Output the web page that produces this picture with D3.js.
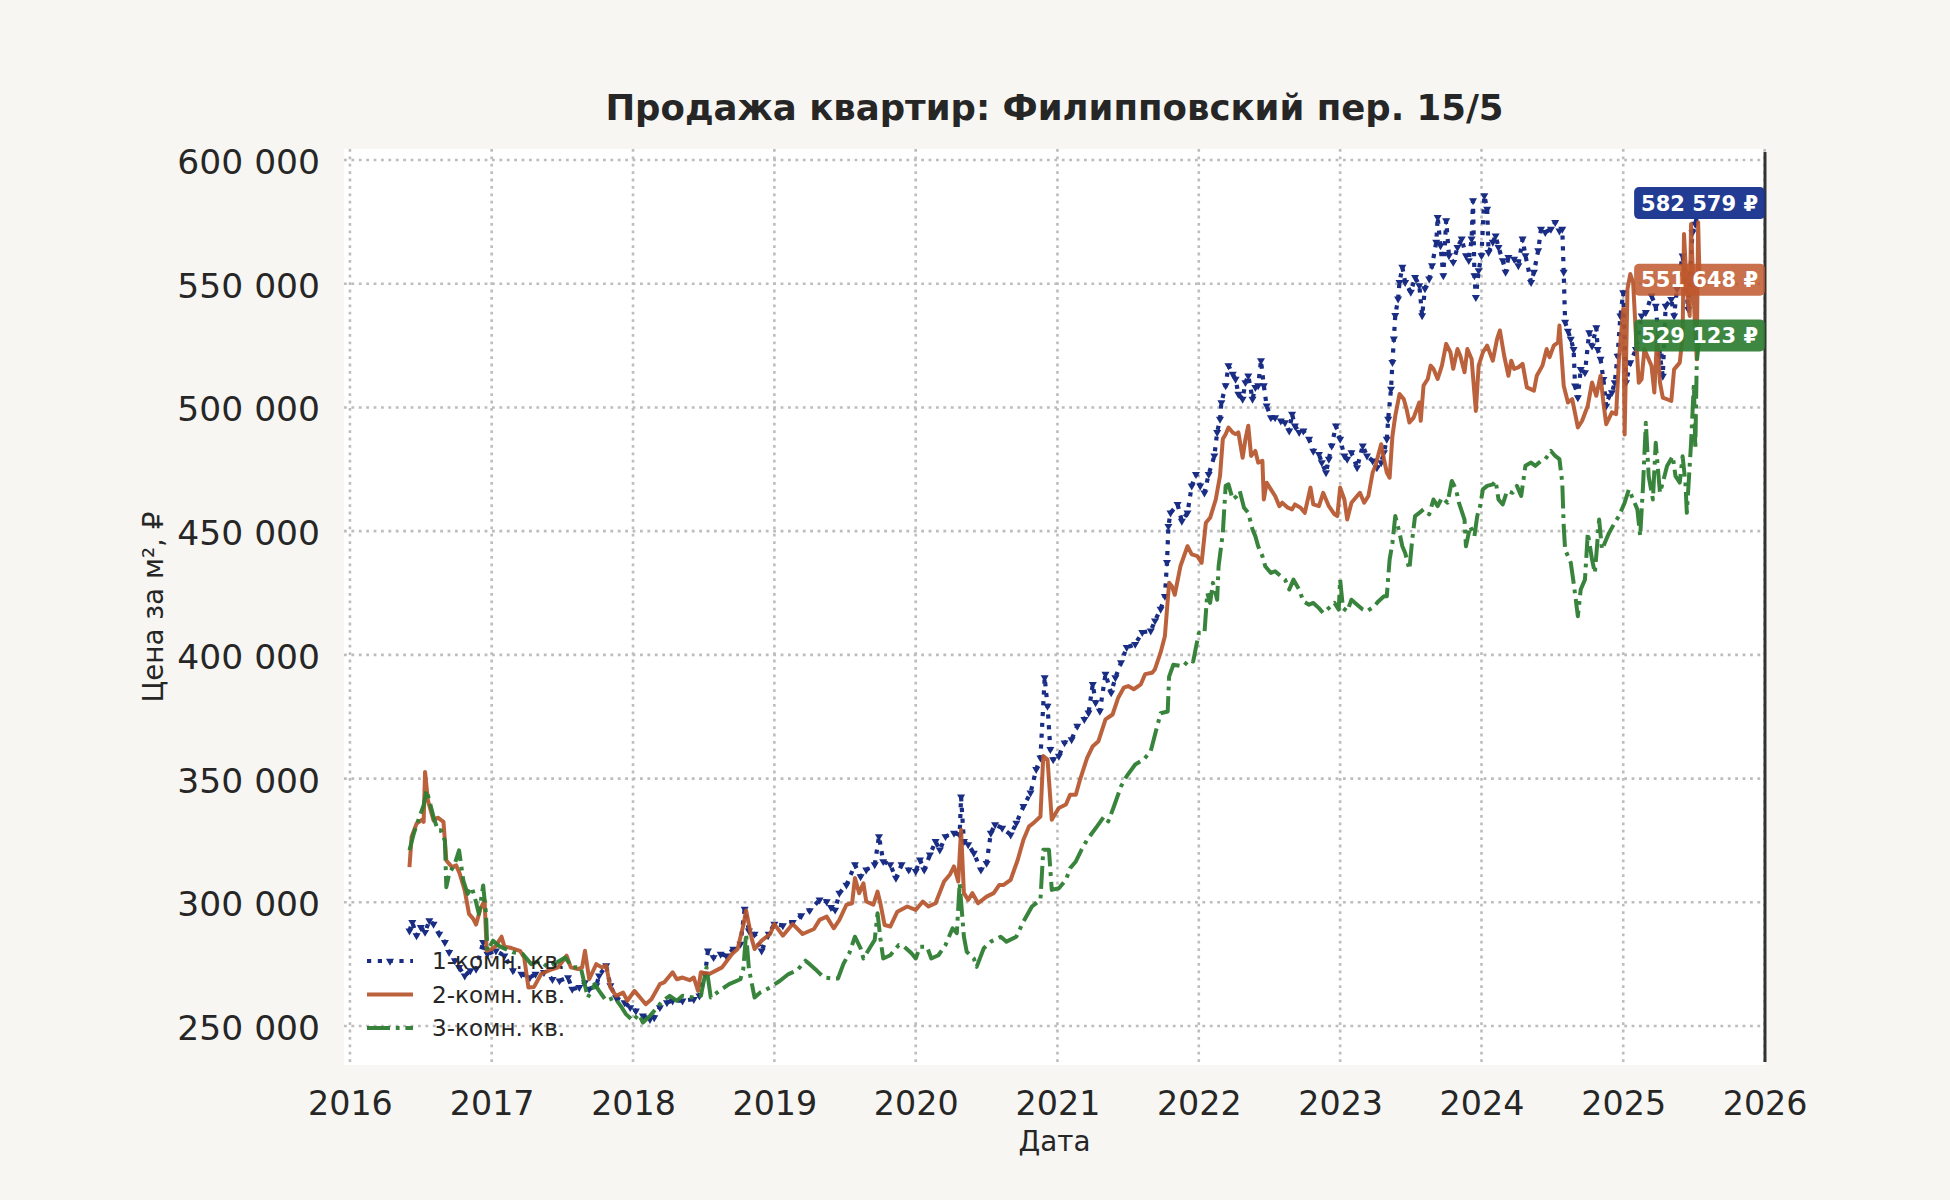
<!DOCTYPE html>
<html>
<head>
<meta charset="utf-8">
<script src="https://cdn.jsdelivr.net/npm/d3@7"></script>
<style>
  html, body { margin: 0; padding: 0; background: #f7f6f2; }
  svg { display: block; font-family: "DejaVu Sans", sans-serif; }
</style>
</head>
<body>
<div id="chart"></div>
<script>
// Data: [decimal year, price per m2]
var oneRoom = [
  [2016.42,288500],[2016.44,291900],[2016.47,286500],[2016.50,289900],[2016.53,287900],[2016.56,292600],
  [2016.59,291200],[2016.63,287200],[2016.67,283800],[2016.70,279800],[2016.74,276400],[2016.77,273700],
  [2016.81,270300],[2016.85,272400],[2016.89,273000],[2016.94,283800],[2016.97,279100],[2017.03,280400],
  [2017.09,278400],[2017.15,272400],[2017.21,271000],[2017.27,269600],[2017.31,271000],[2017.37,271700],
  [2017.43,268900],[2017.48,268300],[2017.54,269600],[2017.57,264900],[2017.62,265600],[2017.66,267600],
  [2017.69,264900],[2017.74,266300],[2017.76,270300],[2017.81,274400],[2017.84,266300],[2017.88,261500],
  [2017.94,259500],[2017.98,257500],[2018.02,256100],[2018.07,254100],[2018.12,252700],[2018.15,253400],
  [2018.19,257500],[2018.24,259500],[2018.28,260200],[2018.35,260200],[2018.43,260800],[2018.47,262200],
  [2018.51,271000],[2018.53,280400],[2018.57,277700],[2018.62,279100],[2018.66,278400],[2018.71,281100],
  [2018.76,283100],[2018.79,297300],[2018.82,288500],[2018.86,287200],[2018.91,280400],[2018.96,287200],
  [2019.00,291200],[2019.06,290600],[2019.13,291900],[2019.19,294600],[2019.25,296700],[2019.32,301000],
  [2019.37,300300],[2019.40,298000],[2019.43,296900],[2019.46,303700],[2019.51,307000],[2019.57,315200],
  [2019.61,310400],[2019.65,313100],[2019.71,315200],[2019.74,326600],[2019.77,316500],[2019.82,315200],
  [2019.86,309800],[2019.90,315200],[2019.95,313100],[2020.00,312500],[2020.03,317200],[2020.06,313100],
  [2020.10,319200],[2020.14,324600],[2020.17,321200],[2020.21,326600],[2020.27,328000],[2020.31,327300],
  [2020.32,342600],[2020.34,324600],[2020.37,323300],[2020.41,319900],[2020.46,313100],[2020.50,315800],
  [2020.53,328000],[2020.56,331400],[2020.61,330000],[2020.67,327300],[2020.71,332000],[2020.76,338800],
  [2020.81,344200],[2020.85,353700],[2020.88,358400],[2020.91,390800],[2020.93,379300],[2020.95,361800],
  [2020.97,357700],[2021.01,359100],[2021.05,364500],[2021.10,365800],[2021.14,371200],[2021.19,373900],
  [2021.22,376600],[2021.25,388100],[2021.27,380700],[2021.30,377300],[2021.34,392200],[2021.38,384700],
  [2021.41,390800],[2021.45,396900],[2021.49,403000],[2021.55,404300],[2021.60,409100],[2021.66,409700],
  [2021.69,413800],[2021.73,418500],[2021.76,423700],[2021.775,437400],[2021.785,452000],[2021.80,457400],
  [2021.85,460800],[2021.88,454100],[2021.92,457400],[2021.95,468300],[2021.98,473000],[2022.01,468300],
  [2022.04,465500],[2022.07,473000],[2022.11,480400],[2022.13,489900],[2022.15,495300],[2022.16,502000],
  [2022.19,508800],[2022.21,516900],[2022.24,513500],[2022.26,511500],[2022.28,505400],[2022.31,503400],
  [2022.33,510100],[2022.35,512800],[2022.38,503400],[2022.40,508100],[2022.42,508800],[2022.44,518900],
  [2022.46,508800],[2022.48,500700],[2022.51,495900],[2022.54,495900],[2022.58,494600],[2022.61,493900],
  [2022.64,490500],[2022.66,497300],[2022.68,492600],[2022.71,489900],[2022.74,490500],[2022.78,487200],
  [2022.81,482400],[2022.85,481100],[2022.87,477700],[2022.90,473700],[2022.92,479100],[2022.94,484500],
  [2022.97,492600],[2023.00,487200],[2023.03,480400],[2023.05,479100],[2023.08,481800],[2023.12,475700],
  [2023.16,484500],[2023.19,480400],[2023.23,478400],[2023.26,475700],[2023.29,477700],[2023.31,481800],
  [2023.33,487200],[2023.34,495300],[2023.36,507400],[2023.37,518200],[2023.38,527700],[2023.39,537200],
  [2023.41,543900],[2023.42,550600],[2023.44,556700],[2023.46,550600],[2023.50,546600],[2023.53,552600],
  [2023.56,549300],[2023.58,537100],[2023.60,548000],[2023.63,552000],[2023.65,557300],[2023.68,566800],
  [2023.69,576800],[2023.71,565400],[2023.73,553300],[2023.75,575500],[2023.77,561400],[2023.80,558700],
  [2023.83,564700],[2023.86,568100],[2023.89,561400],[2023.91,559400],[2023.93,568100],[2023.94,583600],
  [2023.95,553300],[2023.96,544500],[2023.98,555300],[2024.00,561400],[2024.02,585600],[2024.04,580200],
  [2024.05,562700],[2024.08,566800],[2024.10,569400],[2024.12,564700],[2024.15,559400],[2024.17,554700],
  [2024.19,560700],[2024.23,560000],[2024.26,557300],[2024.29,568100],[2024.31,561400],[2024.35,550600],
  [2024.37,554700],[2024.40,563400],[2024.42,572100],[2024.45,570800],[2024.49,572100],[2024.52,574800],
  [2024.55,571400],[2024.57,572100],[2024.58,554700],[2024.59,534500],[2024.61,530900],[2024.63,527600],
  [2024.65,523500],[2024.66,508700],[2024.68,504000],[2024.70,515400],[2024.73,514100],[2024.76,530300],
  [2024.78,524900],[2024.81,532300],[2024.82,523500],[2024.84,519500],[2024.86,511400],[2024.88,500600],
  [2024.90,504600],[2024.92,506000],[2024.94,510000],[2024.96,520800],[2024.98,537000],[2025.00,546400],
  [2025.02,510000],[2025.05,518100],[2025.09,523500],[2025.13,537000],[2025.16,538400],[2025.20,545100],
  [2025.23,541000],[2025.26,520800],[2025.28,512700],[2025.30,541000],[2025.34,543700],[2025.36,537000],
  [2025.38,547800],[2025.42,561300],[2025.46,539700],[2025.49,570700],[2025.51,574100],[2025.54,582579]
];

var twoRoom = [
  [2016.42,314200],[2016.435,326400],[2016.47,331800],[2016.51,333400],[2016.52,332500],[2016.53,352700],
  [2016.55,341200],[2016.59,333100],[2016.62,334200],[2016.66,332500],[2016.68,316900],[2016.72,314200],
  [2016.75,314900],[2016.775,311500],[2016.81,304800],[2016.84,295300],[2016.87,293300],[2016.89,291000],
  [2016.92,297300],[2016.95,300700],[2016.965,280400],[2017.00,281100],[2017.03,282400],[2017.07,286100],
  [2017.09,282100],[2017.14,281500],[2017.20,280400],[2017.23,277700],[2017.26,265600],[2017.30,265800],
  [2017.35,271000],[2017.41,272600],[2017.47,273700],[2017.53,278400],[2017.56,273700],[2017.61,273000],
  [2017.64,273700],[2017.66,280400],[2017.69,268900],[2017.74,275000],[2017.78,273700],[2017.81,274400],
  [2017.84,265600],[2017.88,262200],[2017.93,263500],[2017.96,260200],[2018.01,264200],[2018.05,261500],
  [2018.09,258800],[2018.13,260800],[2018.19,266900],[2018.22,267600],[2018.28,271700],[2018.31,268900],
  [2018.35,269600],[2018.40,268500],[2018.43,269600],[2018.46,264200],[2018.48,271700],[2018.54,271000],
  [2018.63,273700],[2018.70,279100],[2018.74,281100],[2018.78,290600],[2018.80,296700],[2018.84,285200],
  [2018.86,281100],[2018.91,284500],[2018.97,287200],[2019.00,291200],[2019.06,286500],[2019.13,291200],
  [2019.20,287200],[2019.28,289200],[2019.32,292900],[2019.37,294200],[2019.42,289500],[2019.46,292900],
  [2019.51,299000],[2019.55,299600],[2019.57,309800],[2019.60,303700],[2019.63,307700],[2019.65,300300],
  [2019.70,299000],[2019.73,304300],[2019.75,299600],[2019.78,290800],[2019.82,290200],[2019.87,296200],
  [2019.94,298300],[2020.00,296900],[2020.05,300300],[2020.09,298300],[2020.14,299600],[2020.20,308400],
  [2020.24,311100],[2020.27,314500],[2020.30,308400],[2020.32,329300],[2020.34,303700],[2020.37,301000],
  [2020.40,303700],[2020.44,299600],[2020.50,302300],[2020.55,303700],[2020.59,307000],[2020.62,307000],
  [2020.67,309100],[2020.72,317200],[2020.76,325300],[2020.80,330700],[2020.83,332000],[2020.88,334700],
  [2020.90,359100],[2020.93,357700],[2020.96,333400],[2021.01,338100],[2021.06,339500],[2021.09,343500],
  [2021.13,343500],[2021.16,349600],[2021.21,358400],[2021.25,363100],[2021.29,365100],[2021.34,373900],
  [2021.39,375900],[2021.43,382700],[2021.47,386800],[2021.50,387400],[2021.54,386100],[2021.59,388100],
  [2021.62,392200],[2021.67,392800],[2021.69,394200],[2021.73,401000],[2021.76,407500],[2021.79,429100],
  [2021.81,427700],[2021.83,424300],[2021.87,435800],[2021.92,443900],[2021.95,440600],[2021.99,439900],
  [2022.02,437200],[2022.05,453400],[2022.08,455400],[2022.12,462800],[2022.15,472300],[2022.17,487200],
  [2022.19,489200],[2022.21,491900],[2022.24,489900],[2022.26,489200],[2022.28,489900],[2022.31,479700],
  [2022.33,487200],[2022.35,492600],[2022.37,480400],[2022.40,482400],[2022.42,477700],[2022.45,478400],
  [2022.46,462800],[2022.48,469600],[2022.51,466900],[2022.54,464200],[2022.57,460100],[2022.59,461500],
  [2022.63,459500],[2022.66,458800],[2022.68,460800],[2022.72,459500],[2022.75,457400],[2022.79,467600],
  [2022.81,460800],[2022.85,460100],[2022.88,465500],[2022.92,460100],[2022.96,456800],[2022.98,456100],
  [2023.00,467600],[2023.03,462800],[2023.05,454700],[2023.08,461500],[2023.12,464200],[2023.14,465500],
  [2023.17,461500],[2023.20,464200],[2023.23,473700],[2023.25,476400],[2023.29,485100],[2023.31,479100],
  [2023.33,473700],[2023.35,471600],[2023.37,488500],[2023.39,496600],[2023.42,505400],[2023.45,503400],
  [2023.47,499300],[2023.49,493900],[2023.52,495900],[2023.56,502000],[2023.57,494600],[2023.59,508800],
  [2023.62,511500],[2023.64,516900],[2023.66,515600],[2023.69,511500],[2023.72,516900],[2023.75,525700],
  [2023.78,522300],[2023.80,515600],[2023.83,523600],[2023.85,520900],[2023.88,514200],[2023.90,523600],
  [2023.93,519600],[2023.96,498600],[2023.98,516900],[2024.01,522300],[2024.04,525000],[2024.08,518900],
  [2024.11,527700],[2024.13,531100],[2024.16,520900],[2024.19,512800],[2024.21,518900],[2024.23,515600],
  [2024.26,516200],[2024.29,517600],[2024.32,508100],[2024.37,506800],[2024.39,512800],[2024.43,516900],
  [2024.46,523600],[2024.48,520300],[2024.51,525000],[2024.54,526300],[2024.55,533100],[2024.58,508800],
  [2024.61,502000],[2024.64,503400],[2024.68,491900],[2024.71,494600],[2024.75,500700],[2024.78,510100],
  [2024.81,504700],[2024.84,512800],[2024.86,502000],[2024.88,493200],[2024.92,498000],[2024.95,497300],
  [2024.97,519600],[2025.00,539900],[2025.01,489100],[2025.03,547800],[2025.05,553900],[2025.07,550500],
  [2025.09,528900],[2025.11,510000],[2025.13,511400],[2025.15,523500],[2025.17,520800],[2025.20,516800],
  [2025.22,506000],[2025.24,528900],[2025.26,510000],[2025.28,504000],[2025.31,503300],[2025.34,502600],
  [2025.36,515400],[2025.40,518100],[2025.42,528900],[2025.43,570100],[2025.45,547800],[2025.47,537000],
  [2025.48,574100],[2025.50,542400],[2025.52,519500],[2025.53,574800],[2025.54,551648]
];

var threeRoom = [
  [2016.42,321000],[2016.45,327700],[2016.49,334500],[2016.52,339200],[2016.54,345300],[2016.56,341200],
  [2016.59,334500],[2016.62,329100],[2016.64,329100],[2016.67,325000],[2016.68,306100],[2016.70,311500],
  [2016.74,315600],[2016.77,321000],[2016.80,308800],[2016.83,303400],[2016.86,306100],[2016.89,300000],
  [2016.91,295300],[2016.94,306800],[2016.96,295300],[2016.97,280400],[2017.01,284500],[2017.05,282400],
  [2017.10,281100],[2017.15,279800],[2017.22,279100],[2017.28,275000],[2017.34,276400],[2017.40,273700],
  [2017.46,275700],[2017.52,277700],[2017.57,273700],[2017.63,273700],[2017.68,261500],[2017.73,266900],
  [2017.76,264200],[2017.81,260200],[2017.87,261500],[2017.92,257500],[2017.95,254800],[2018.00,252100],
  [2018.04,254800],[2018.07,251400],[2018.12,254100],[2018.17,257500],[2018.21,260200],[2018.26,262200],
  [2018.31,260200],[2018.35,262200],[2018.43,261500],[2018.48,262200],[2018.52,273700],[2018.55,261500],
  [2018.61,264200],[2018.68,266900],[2018.76,268900],[2018.78,273000],[2018.80,287200],[2018.82,273000],
  [2018.86,261500],[2018.90,263500],[2018.97,265600],[2019.04,268300],[2019.10,271000],[2019.16,272400],
  [2019.22,276400],[2019.25,275000],[2019.30,272400],[2019.35,269600],[2019.41,269200],[2019.45,269200],
  [2019.49,275300],[2019.53,279400],[2019.57,286100],[2019.61,281400],[2019.63,277300],[2019.68,282000],
  [2019.71,284800],[2019.73,295600],[2019.75,285400],[2019.77,277300],[2019.82,278600],[2019.88,282700],
  [2019.92,282000],[2019.97,279400],[2020.00,277300],[2020.03,282000],[2020.08,282000],[2020.11,277300],
  [2020.16,278600],[2020.21,282700],[2020.26,289500],[2020.29,287500],[2020.31,307700],[2020.34,286100],
  [2020.36,280000],[2020.41,277300],[2020.43,273900],[2020.48,281400],[2020.53,284100],[2020.60,286100],
  [2020.64,284100],[2020.71,286100],[2020.76,292200],[2020.82,298300],[2020.88,301000],[2020.90,321200],
  [2020.94,321200],[2020.96,305000],[2021.01,305700],[2021.06,309100],[2021.09,313800],[2021.13,316500],
  [2021.17,321200],[2021.21,325300],[2021.28,330700],[2021.33,334700],[2021.36,332700],[2021.40,338800],
  [2021.45,346900],[2021.49,351000],[2021.55,355700],[2021.61,357700],[2021.66,361100],[2021.70,369900],
  [2021.73,376400],[2021.78,377100],[2021.79,391200],[2021.82,396000],[2021.89,395300],[2021.93,398000],
  [2021.96,397300],[2022.00,408800],[2022.04,408800],[2022.06,425000],[2022.08,421000],[2022.10,429100],
  [2022.13,422300],[2022.14,435800],[2022.17,449300],[2022.19,468300],[2022.21,468900],[2022.24,462800],
  [2022.27,464200],[2022.29,466200],[2022.32,459500],[2022.35,457400],[2022.38,450700],[2022.40,448000],
  [2022.42,443900],[2022.45,439900],[2022.47,435800],[2022.51,433100],[2022.54,433800],[2022.58,431800],
  [2022.61,430400],[2022.64,426400],[2022.67,430400],[2022.71,426400],[2022.74,421600],[2022.78,420300],
  [2022.81,421000],[2022.85,418900],[2022.88,416900],[2022.92,418900],[2022.96,421000],[2022.99,418300],
  [2023.00,430400],[2023.02,418900],[2023.05,417600],[2023.08,422300],[2023.12,420300],[2023.16,418300],
  [2023.19,417600],[2023.24,419600],[2023.27,421600],[2023.31,423700],[2023.33,423700],[2023.35,438500],
  [2023.37,445300],[2023.39,456100],[2023.42,449300],[2023.44,443900],[2023.46,441200],[2023.49,434500],
  [2023.51,446600],[2023.53,456100],[2023.56,457400],[2023.59,458800],[2023.63,456800],[2023.66,462800],
  [2023.69,460100],[2023.72,463500],[2023.76,461500],[2023.79,470300],[2023.82,466900],[2023.84,461500],
  [2023.88,454700],[2023.89,443900],[2023.92,452000],[2023.95,448000],[2023.97,456100],[2023.99,460100],
  [2024.01,466900],[2024.04,468300],[2024.08,468900],[2024.10,470300],[2024.12,462800],[2024.15,460800],
  [2024.18,466200],[2024.22,465500],[2024.25,468300],[2024.28,464200],[2024.31,476400],[2024.35,477700],
  [2024.38,476400],[2024.42,478400],[2024.45,479100],[2024.49,482400],[2024.52,480400],[2024.55,479100],
  [2024.57,469600],[2024.58,452000],[2024.59,442600],[2024.63,437200],[2024.65,429100],[2024.68,415600],
  [2024.70,426400],[2024.73,430400],[2024.75,449300],[2024.78,438500],[2024.80,433100],[2024.83,454700],
  [2024.85,442600],[2024.88,446600],[2024.90,449300],[2024.94,453400],[2024.97,456100],[2025.01,461500],
  [2025.04,466900],[2025.07,462800],[2025.10,458800],[2025.12,448000],[2025.14,468200],[2025.16,493800],
  [2025.18,472200],[2025.21,462800],[2025.23,485700],[2025.26,465500],[2025.28,469600],[2025.31,476300],
  [2025.35,480300],[2025.37,472200],[2025.40,469600],[2025.42,480300],[2025.44,469600],[2025.45,457400],
  [2025.47,476300],[2025.48,485700],[2025.50,510000],[2025.51,483000],[2025.52,518100],[2025.54,529123]
];

var seriesNames = ["1-комн. кв.", "2-комн. кв.", "3-комн. кв."];
var yTicks = [250000, 300000, 350000, 400000, 450000, 500000, 550000, 600000];
var xTickYears = [2016, 2017, 2018, 2019, 2020, 2021, 2022, 2023, 2024, 2025, 2026];

var titleText = "Продажа квартир: Филипповский пер. 15/5";
var xLabel = "Дата";
var yLabel = "Цена за м², ₽";

// Layout
var W = 1950, H = 1200;
var plot = {left: 344, top: 149, right: 1765, bottom: 1065};

function yearToDate(y){
  var yr = Math.floor(y);
  var s = new Date(yr, 0, 1), e = new Date(yr + 1, 0, 1);
  return new Date(+s + (y - yr) * (e - s));
}

var fmt = function(v){ return d3.format(",")(v).replace(/,/g, " "); };

var svg = d3.select("#chart").append("svg")
  .attr("width", W).attr("height", H);

svg.append("rect").attr("width", W).attr("height", H).attr("fill", "#f7f6f2");
svg.append("rect")
  .attr("x", plot.left).attr("y", plot.top)
  .attr("width", plot.right - plot.left).attr("height", plot.bottom - plot.top)
  .attr("fill", "#ffffff");

var x = d3.scaleTime()
  .domain([yearToDate(2015.958), yearToDate(2026.003)])
  .range([plot.left, plot.right]);

var y = d3.scaleLinear()
  .domain([234240, 604450])
  .range([plot.bottom, plot.top]);

// grid
var grid = svg.append("g").attr("class", "grid")
  .attr("stroke", "#bdbdbd").attr("stroke-width", 2.6).attr("stroke-dasharray", "2.8,4.6");

grid.selectAll("line.h").data(yTicks).enter().append("line")
  .attr("x1", plot.left).attr("x2", plot.right)
  .attr("y1", function(d){ return y(d); }).attr("y2", function(d){ return y(d); });

grid.selectAll("line.v").data(xTickYears).enter().append("line")
  .attr("x1", function(d){ return x(new Date(d, 0, 1)); })
  .attr("x2", function(d){ return x(new Date(d, 0, 1)); })
  .attr("y1", plot.top).attr("y2", plot.bottom);

// axes (text only, no domain / ticks)
var yAxis = svg.append("g")
  .attr("transform", "translate(" + (plot.left - 24) + ",2.5)")
  .call(d3.axisLeft(y).tickValues(yTicks).tickFormat(fmt).tickSize(0).tickPadding(0));
yAxis.select(".domain").remove();
yAxis.selectAll("text")
  .attr("font-family", "DejaVu Sans").attr("font-size", 34.5).attr("fill", "#262626");

var xAxis = svg.append("g")
  .attr("transform", "translate(0," + (plot.bottom + 26) + ")")
  .call(d3.axisBottom(x).tickValues(xTickYears.map(function(d){ return new Date(d, 0, 1); }))
    .tickFormat(d3.timeFormat("%Y")).tickSize(0).tickPadding(0));
xAxis.select(".domain").remove();
xAxis.selectAll("text")
  .attr("font-family", "DejaVu Sans").attr("font-size", 33.3).attr("fill", "#262626")
  .attr("dy", "0.71em");

// right spine
svg.append("line")
  .attr("x1", plot.right).attr("x2", plot.right)
  .attr("y1", plot.top + 3).attr("y2", plot.bottom - 3)
  .attr("stroke", "#333333").attr("stroke-width", 3);

// lines
var line = d3.line()
  .x(function(d){ return x(yearToDate(d[0])); })
  .y(function(d){ return y(d[1]); });

var styles = [
  {color: "#1a2d84", width: 4.2, dash: "4.2,6.6", opacity: 1},
  {color: "#b5552b", width: 4, dash: null, opacity: 0.92},
  {color: "#2e7d32", width: 4, dash: "23,5.8,3.8,5.8", opacity: 0.95}
];
var allSeries = [oneRoom, twoRoom, threeRoom];

var tri = d3.symbol().type(d3.symbolTriangle).size(28);

allSeries.forEach(function(data, i){
  var st = styles[i];
  svg.append("path")
    .datum(data)
    .attr("d", line)
    .attr("fill", "none")
    .attr("stroke", st.color)
    .attr("stroke-width", st.width)
    .attr("stroke-dasharray", st.dash)
    .attr("stroke-linejoin", "round")
    .attr("opacity", st.opacity);
  if (i === 0) {
    svg.append("g").selectAll("path").data(data).enter().append("path")
      .attr("d", tri)
      .attr("transform", function(d){ return "translate(" + x(yearToDate(d[0])) + "," + y(d[1]) + ") rotate(180)"; })
      .attr("fill", st.color);
  }
});

// legend
var legend = svg.append("g").attr("transform", "translate(367,0)");
var legendRows = [961, 994.5, 1028];
seriesNames.forEach(function(name, i){
  var st = styles[i];
  var ry = legendRows[i];
  legend.append("line")
    .attr("x1", 0).attr("x2", 46).attr("y1", ry).attr("y2", ry)
    .attr("stroke", st.color).attr("stroke-width", st.width)
    .attr("stroke-dasharray", st.dash).attr("opacity", st.opacity);
  if (i === 0) {
    legend.append("path").attr("d", tri)
      .attr("transform", "translate(23," + ry + ") rotate(180)")
      .attr("fill", st.color);
  }
  legend.append("text")
    .attr("x", 65).attr("y", ry + 8.2)
    .attr("font-size", 23.1).attr("fill", "#262626")
    .text(name);
});

// last value badges
var badgeFill = ["#1c3690", "#c0582d", "#2e7d32"];
var badgeOpacity = [0.97, 0.85, 0.92];
allSeries.forEach(function(data, i){
  var last = data[data.length - 1];
  var cx = x(yearToDate(last[0])), cy = y(last[1]);
  var g = svg.append("g");
  var t = g.append("text")
    .attr("x", cx).attr("y", cy + 7.6)
    .attr("text-anchor", "middle")
    .attr("font-size", 21).attr("font-weight", "bold").attr("fill", "#ffffff")
    .text(fmt(last[1]) + " ₽");
  var w = t.node().getComputedTextLength() + 14;
  g.insert("rect", "text")
    .attr("x", cx - w / 2).attr("y", cy - 16)
    .attr("width", w).attr("height", 32)
    .attr("rx", 5).attr("ry", 5)
    .attr("fill", badgeFill[i]).attr("fill-opacity", badgeOpacity[i]);
});

// titles
svg.append("text")
  .attr("x", (plot.left + plot.right) / 2).attr("y", 120)
  .attr("text-anchor", "middle")
  .attr("font-size", 35.5).attr("font-weight", "bold").attr("fill", "#262626")
  .text(titleText);

svg.append("text")
  .attr("x", (plot.left + plot.right) / 2).attr("y", 1151)
  .attr("text-anchor", "middle")
  .attr("font-size", 27.8).attr("fill", "#262626")
  .text(xLabel);

svg.append("text")
  .attr("transform", "translate(163," + ((plot.top + plot.bottom) / 2) + ") rotate(-90)")
  .attr("text-anchor", "middle")
  .attr("font-size", 27.8).attr("fill", "#262626")
  .text(yLabel);
</script>
</body>
</html>
